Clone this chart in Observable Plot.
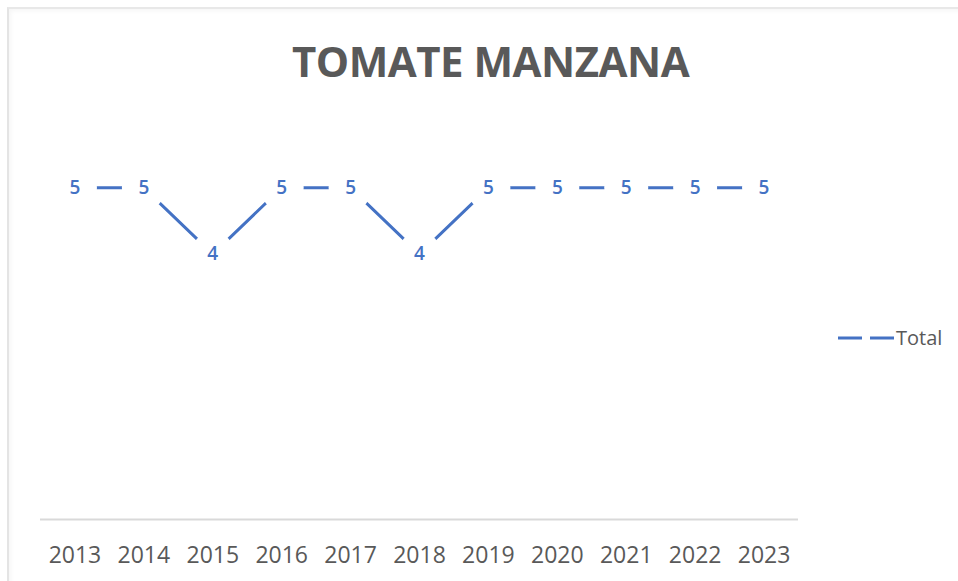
<!DOCTYPE html>
<html>
<head>
<meta charset="utf-8">
<script src="https://cdn.jsdelivr.net/npm/d3@7"></script>
<script src="https://cdn.jsdelivr.net/npm/@observablehq/plot@0.6"></script>
<style>
  html, body { margin: 0; padding: 0; background: #fff; }
  #wrap { position: relative; width: 958px; height: 581px; overflow: hidden; font-family: "Open Sans", "Liberation Sans", sans-serif; }
  #frame { position: absolute; left: 7px; top: 7px; width: 1000px; height: 700px; border-left: 2px solid #e4e4e4; border-top: 2px solid #e8e8e8; box-shadow: inset 2px 2px 4px rgba(0,0,0,0.04); }
  #chart { position: absolute; left: 0; top: 0; }
  #title { position: absolute; left: 0; width: 981px; top: 32px; text-align: center; font-size: 42px; font-weight: 700; color: #595959; letter-spacing: -0.5px; }
  #legend { position: absolute; left: 836px; top: 324px; display: flex; align-items: center; font-size: 20px; color: #595959; }
</style>
</head>
<body>
<div id="wrap">
  <div id="frame"></div>
  <div id="chart"></div>
  <div id="title">TOMATE MANZANA</div>
  <div id="legend">
    <svg width="60" height="20"><line x1="2" y1="10" x2="59" y2="10" stroke="#4472C4" stroke-width="3" stroke-dasharray="24,8"></line></svg>
    <span>Total</span>
  </div>
</div>
<script>
const years = ["2013","2014","2015","2016","2017","2018","2019","2020","2021","2022","2023"];
const totals = [5, 5, 4, 5, 5, 4, 5, 5, 5, 5, 5];
const seriesName = "Total";

const data = years.map((y, i) => ({year: y, value: totals[i]}));
const blue = "#4472C4";

const plot = Plot.plot({
  width: 958,
  height: 581,
  marginLeft: 40,
  marginRight: 160,
  marginTop: 121,
  marginBottom: 62,
  style: {background: "transparent", fontFamily: "'Open Sans', sans-serif"},
  x: {type: "band", domain: years, padding: 0, round: false, label: null},
  y: {domain: [0, 6], axis: null},
  marks: [
    Plot.ruleY([0], {stroke: "#d9d9d9", strokeWidth: 2}),
    Plot.axisX({tickSize: 0, tickPadding: 27, fontSize: 23, fill: "#595959", stroke: null, label: null}),
    Plot.lineY(data, {x: "year", y: "value", stroke: blue, strokeWidth: 3}),
    Plot.dot(data, {x: "year", y: "value", r: 22, fill: "white", stroke: null}),
    Plot.text(data, {x: "year", y: "value", text: d => String(d.value), fill: blue, fontSize: 19, fontWeight: 600})
  ]
});
document.getElementById("chart").appendChild(plot);
</script>
</body>
</html>
